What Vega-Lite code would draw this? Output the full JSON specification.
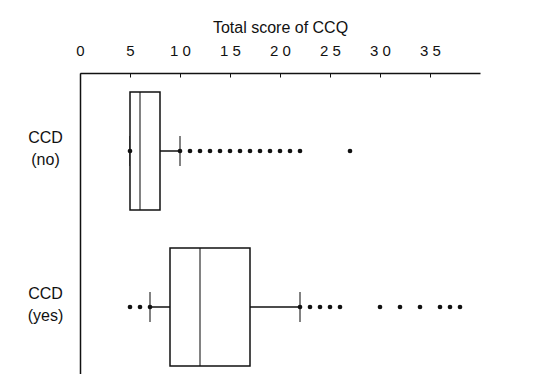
{
  "$schema": "https://vega.github.io/schema/vega-lite/v6.json",
  "autosize": {"type": "none"},
  "padding": {"left": 80, "top": 73, "right": 60, "bottom": 0},
  "width": 400,
  "height": 312,
  "background": "white",
  "config": {
    "font": "Liberation Sans",
    "view": {"stroke": null},
    "axis": {"grid": false, "domainColor": "#111", "tickColor": "#111", "labelColor": "#111", "titleColor": "#111", "labelFont": "Liberation Sans", "titleFont": "Liberation Sans"}
  },
  "datasets": {
    "stats": [
      {"group": "CCD (no)", "lower": 5, "q1": 5, "median": 6, "q3": 8, "upper": 10},
      {"group": "CCD (yes)", "lower": 7, "q1": 9, "median": 12, "q3": 17, "upper": 22}
    ],
    "points": [
      {"group": "CCD (no)", "score": 5},
      {"group": "CCD (no)", "score": 10},
      {"group": "CCD (no)", "score": 11},
      {"group": "CCD (no)", "score": 12},
      {"group": "CCD (no)", "score": 13},
      {"group": "CCD (no)", "score": 14},
      {"group": "CCD (no)", "score": 15},
      {"group": "CCD (no)", "score": 16},
      {"group": "CCD (no)", "score": 17},
      {"group": "CCD (no)", "score": 18},
      {"group": "CCD (no)", "score": 19},
      {"group": "CCD (no)", "score": 20},
      {"group": "CCD (no)", "score": 21},
      {"group": "CCD (no)", "score": 22},
      {"group": "CCD (no)", "score": 27},
      {"group": "CCD (yes)", "score": 5},
      {"group": "CCD (yes)", "score": 6},
      {"group": "CCD (yes)", "score": 7},
      {"group": "CCD (yes)", "score": 22},
      {"group": "CCD (yes)", "score": 23},
      {"group": "CCD (yes)", "score": 24},
      {"group": "CCD (yes)", "score": 25},
      {"group": "CCD (yes)", "score": 26},
      {"group": "CCD (yes)", "score": 30},
      {"group": "CCD (yes)", "score": 32},
      {"group": "CCD (yes)", "score": 34},
      {"group": "CCD (yes)", "score": 36},
      {"group": "CCD (yes)", "score": 37},
      {"group": "CCD (yes)", "score": 38}
    ]
  },
  "encoding": {
    "y": {
      "field": "group",
      "type": "nominal",
      "scale": {"domain": ["CCD (no)", "CCD (yes)"], "paddingInner": 0, "paddingOuter": 0},
      "axis": {
        "title": null,
        "ticks": false,
        "labelExpr": "split(datum.label, ' ')",
        "labelAlign": "center",
        "labelBaseline": "middle",
        "labelPadding": 35,
        "labelOffset": -13,
        "labelFontSize": 16,
        "labelLineHeight": 22,
        "domainWidth": 1.5
      }
    }
  },
  "layer": [
    {
      "data": {"name": "stats"},
      "mark": {"type": "rule", "color": "#111", "strokeWidth": 1.5},
      "encoding": {
        "x": {
          "field": "lower",
          "type": "quantitative",
          "scale": {"domain": [0, 40], "nice": false},
          "axis": {
            "orient": "top",
            "title": "Total score of CCQ",
            "titleFontSize": 16,
            "titleFontWeight": "normal",
            "titlePadding": 8,
            "values": [0, 5, 10, 15, 20, 25, 30, 35],
            "labelExpr": "join(split(datum.label, ''), ' ')",
            "labelFontSize": 15,
            "labelPadding": 19,
            "tickSize": -4,
            "domainWidth": 1.5,
            "labelFlush": false
          }
        },
        "x2": {"field": "q1"}
      }
    },
    {
      "data": {"name": "stats"},
      "mark": {"type": "rule", "color": "#111", "strokeWidth": 1.5},
      "encoding": {
        "x": {"field": "q3", "type": "quantitative"},
        "x2": {"field": "upper"}
      }
    },
    {
      "data": {"name": "stats"},
      "mark": {"type": "tick", "orient": "vertical", "color": "#111", "size": 30, "thickness": 1.5},
      "encoding": {"x": {"field": "lower", "type": "quantitative"}}
    },
    {
      "data": {"name": "stats"},
      "mark": {"type": "tick", "orient": "vertical", "color": "#111", "size": 30, "thickness": 1.5},
      "encoding": {"x": {"field": "upper", "type": "quantitative"}}
    },
    {
      "data": {"name": "stats"},
      "mark": {"type": "bar", "fill": "white", "stroke": "#111", "strokeWidth": 1.5, "size": 118},
      "encoding": {
        "x": {"field": "q1", "type": "quantitative"},
        "x2": {"field": "q3"}
      }
    },
    {
      "data": {"name": "stats"},
      "mark": {"type": "tick", "orient": "vertical", "color": "#111", "size": 118, "thickness": 1.5},
      "encoding": {"x": {"field": "median", "type": "quantitative"}}
    },
    {
      "data": {"name": "points"},
      "mark": {"type": "point", "filled": true, "color": "#111", "opacity": 1, "size": 22},
      "encoding": {"x": {"field": "score", "type": "quantitative"}}
    }
  ]
}
